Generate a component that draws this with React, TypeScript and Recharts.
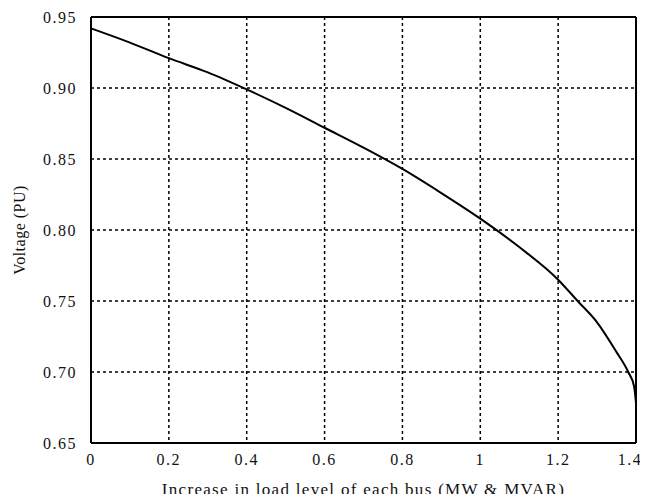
import {
  CartesianGrid,
  Line,
  LineChart,
  ReferenceLine,
  XAxis,
  YAxis,
} from "recharts";

// load increase (MW & MVAR) vs bus voltage (PU)
const loadLevel = [
  0, 0.1, 0.2, 0.3, 0.4, 0.5, 0.6, 0.7, 0.8, 0.9, 1.0, 1.1, 1.2, 1.25, 1.3,
  1.35, 1.38, 1.395, 1.4,
];
const voltage = [
  0.942, 0.932, 0.921, 0.911, 0.899, 0.886, 0.872, 0.858, 0.843, 0.826, 0.808,
  0.788, 0.765, 0.75, 0.735, 0.714, 0.7, 0.69, 0.678,
];
const xTicks = [0, 0.2, 0.4, 0.6, 0.8, 1, 1.2, 1.4];
const yTicks = [0.65, 0.7, 0.75, 0.8, 0.85, 0.9, 0.95];

const data = loadLevel.map((x, i) => ({ x, v: voltage[i] }));

const font = '"Liberation Serif", "DejaVu Serif", serif';
const tickStyle = { fill: "#111", fontSize: 16, fontFamily: font, letterSpacing: 1.5 };

export default function App() {
  return (
    <div style={{ margin: -8, background: "#fff", width: 648, height: 502 }}>
      <LineChart
        width={648}
        height={502}
        data={data}
        margin={{ top: 17, right: 12, left: 0, bottom: 0 }}
        accessibilityLayer={false}
      >
        <CartesianGrid stroke="#000" strokeWidth={1.5} strokeDasharray="3 3" />
        <XAxis
          dataKey="x"
          type="number"
          domain={[0, 1.4]}
          ticks={xTicks}
          tickFormatter={(v: number) => String(v)}
          height={59}
          axisLine={{ stroke: "#000", strokeWidth: 2 }}
          tickLine={false}
          tick={(props: any) => {
            const { x, y, payload } = props;
            // last label sits a bit inside the frame, as in the original
            const dx = payload.value === 1.4 ? -6 : 0;
            return (
              <text x={x + dx} y={y + 14} textAnchor="middle" style={tickStyle}>
                {String(payload.value)}
              </text>
            );
          }}
          label={{
            value: "Increase in load level of each bus (MW & MVAR)",
            position: "insideBottom",
            offset: 7,
            style: { fill: "#111", fontSize: 17, fontFamily: font, letterSpacing: 1.3 },
          }}
        />
        <YAxis
          type="number"
          domain={[0.65, 0.95]}
          ticks={yTicks}
          tickFormatter={(v: number) => v.toFixed(2)}
          width={91}
          axisLine={{ stroke: "#000", strokeWidth: 2 }}
          tickLine={false}
          tick={tickStyle}
          tickMargin={8}
          label={{
            value: "Voltage (PU)",
            angle: -90,
            position: "insideLeft",
            offset: 19,
            style: { fill: "#111", fontSize: 16, fontFamily: font, letterSpacing: 0.5, textAnchor: "middle" },
          }}
        />
        <ReferenceLine y={0.95} stroke="#000" strokeWidth={2} />
        <ReferenceLine x={1.4} stroke="#000" strokeWidth={2} />
        <Line
          type="monotone"
          dataKey="v"
          stroke="#000"
          strokeWidth={2}
          dot={false}
          isAnimationActive={false}
        />
      </LineChart>
    </div>
  );
}
